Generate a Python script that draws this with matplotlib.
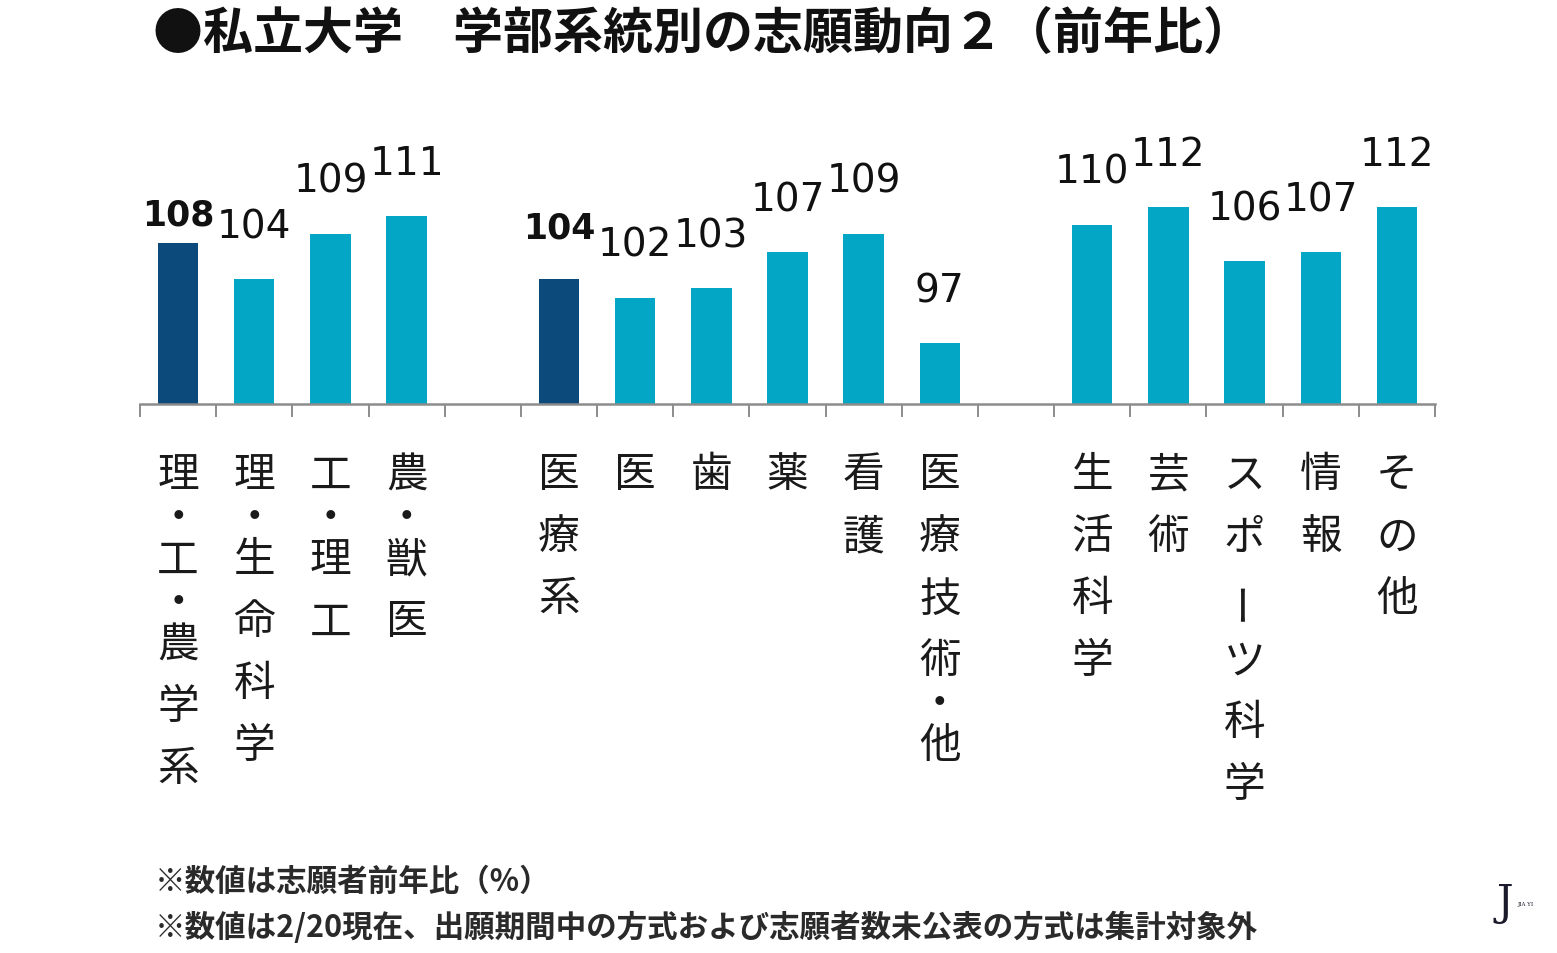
import numpy as np
import matplotlib
matplotlib.use("Agg")
import matplotlib.pyplot as plt

plt.rcParams['font.family'] = ['Noto Sans CJK JP', 'DejaVu Sans']

# data
science_labels = ["理・工・農学系", "理・生命科学", "工・理工", "農・獣医"]
science_values = [108, 104, 109, 111]
medical_labels = ["医療系", "医", "歯", "薬", "看護", "医療技術・他"]
medical_values = [104, 102, 103, 107, 109, 97]
other_labels = ["生活科学", "芸術", "スポーツ科学", "情報", "その他"]
other_values = [110, 112, 106, 107, 112]
totals = ["理・工・農学系", "医療系"]

title = "●私立大学　学部系統別の志願動向２（前年比）"
note1 = "※数値は志願者前年比（%）"
note2 = "※数値は2/20現在、出願期間中の方式および志願者数未公表の方式は集計対象外"

# slots: group, empty slot, group, empty slot, group
labels, values, xs = [], [], []
pos = 0
for lab, val in [(science_labels, science_values),
                 (medical_labels, medical_values),
                 (other_labels, other_values)]:
    for l, v in zip(lab, val):
        labels.append(l)
        values.append(v)
        xs.append(pos)
        pos += 1
    pos += 1
nslots = pos - 1

W, H = 1557, 954
fig = plt.figure(figsize=(W / 100, H / 100), dpi=100)
base = 90.3
top = 120
ax = fig.add_axes([140 / W, (H - 405) / H, 1295 / W, (top - base) * 9.1 / H])
ax.set_xlim(-0.5, nslots - 0.5)
ax.set_ylim(base, top)

dark = '#0c4a7b'
light = '#03a6c4'
colors = [dark if l in totals else light for l in labels]
ax.bar(xs, np.array(values) - base, bottom=base, width=0.53, color=colors)

for x, v, l in zip(xs, values, labels):
    bold = l in totals
    lift = 18 if l == totals[0] else 42
    ax.annotate(str(v), (x, v), xytext=(0, lift), textcoords='offset pixels',
                ha='center', va='baseline', family='DejaVu Sans',
                fontsize=25 if bold else 28, fontweight='bold' if bold else 'normal',
                color='#111111', annotation_clip=False)

for s in ['top', 'right', 'left']:
    ax.spines[s].set_visible(False)
ax.spines['bottom'].set_color('#8c8c8c')
ax.spines['bottom'].set_linewidth(1.8)
ax.set_yticks([])
ax.set_xticks(np.arange(-0.5, nslots, 1.0))
ax.set_xticklabels([])
ax.tick_params(axis='x', direction='out', length=9.5, width=1.4, color='#8c8c8c')

# vertical category labels, one character per line
for x, l in zip(xs, labels):
    cur = 445
    for ch in l:
        adv = 23 if ch == '・' else 62
        yc = cur + adv / 2
        ax.annotate(ch, (x, H - yc), xycoords=('data', 'figure pixels'),
                    ha='center', va='center', fontsize=30, color='#1a1a1a',
                    rotation=90 if ch == 'ー' else 0, annotation_clip=False)
        cur += adv

fig.text(153 / W, 1 - 35 / H, title, ha='left', va='center',
         fontsize=36, fontweight='bold', color='#111111')
fig.text(155 / W, 1 - 882 / H, note1, ha='left', va='center',
         fontsize=22, fontweight='bold', color='#2a2a2a')
fig.text(155 / W, 1 - 928 / H, note2, ha='left', va='center',
         fontsize=22, fontweight='bold', color='#2a2a2a')

fig.text(1505 / W, 1 - 903 / H, "J", ha='center', va='center',
         fontsize=30, family='DejaVu Serif', color='#1a1a2a')
fig.text(1526 / W, 1 - 905 / H, "JIA YI", ha='center', va='center',
         fontsize=4, family='DejaVu Serif', color='#1a1a2a')

fig.savefig('out.png', dpi=100)
